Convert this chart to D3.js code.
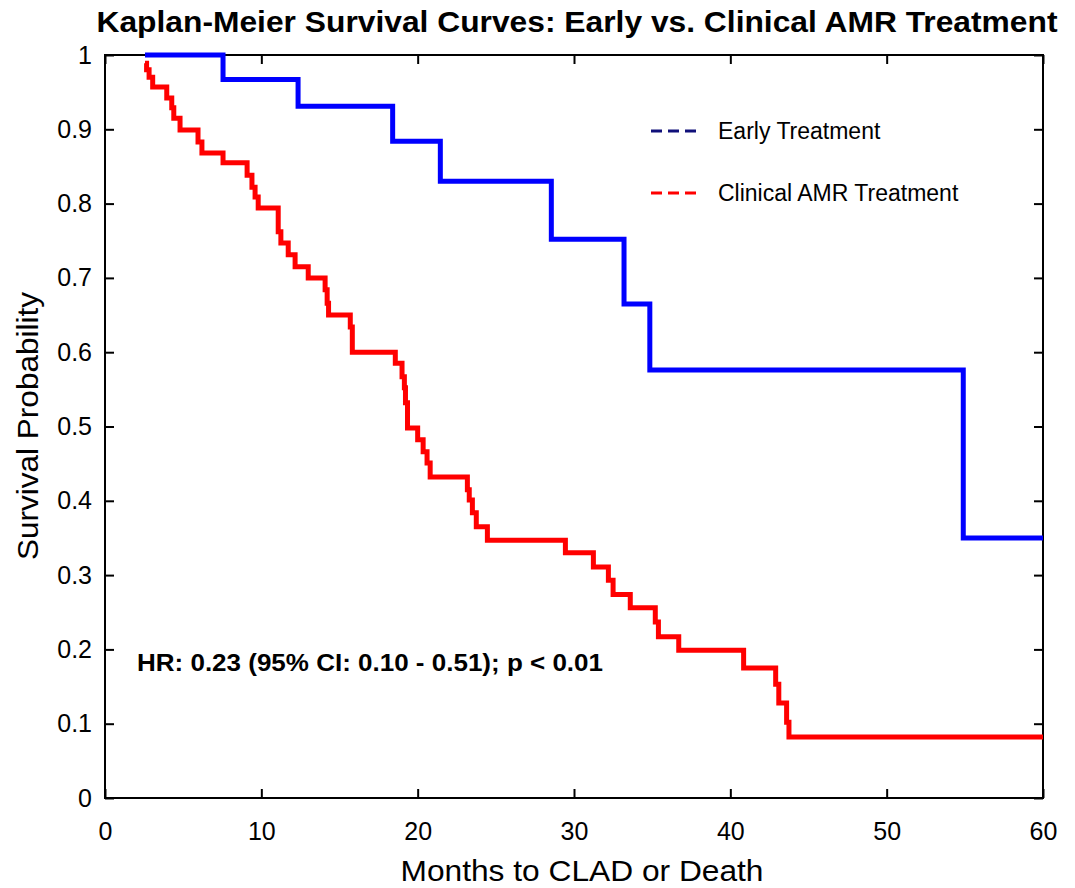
<!DOCTYPE html>
<html>
<head>
<meta charset="utf-8">
<script src="https://cdn.jsdelivr.net/npm/d3@7"></script>
<style>
  body { margin: 0; background: #fff; }
  text { font-family: "Liberation Sans", Arial, sans-serif; fill: #000; }
</style>
</head>
<body>
<div id="chart"></div>
<script>
// survival data (months, probability after the step)
var earlyTimes = [2.56, 7.55, 12.35, 18.4, 21.45, 28.55, 33.2, 34.85, 54.9];
var earlySurv  = [1.0, 0.967, 0.931, 0.884, 0.830, 0.752, 0.665, 0.576, 0.350];

var clinicalTimes = [2.56, 2.66, 2.82, 3.05, 3.95, 4.27, 4.4, 4.8, 5.95, 6.2, 7.55, 9.09, 9.4, 9.6, 9.8,
  11.08, 11.25, 11.72, 12.16, 13.0, 14.08, 14.21, 14.3, 15.69, 15.82, 18.57, 19.0, 19.15, 19.22, 19.35,
  20.0, 20.35, 20.6, 20.8, 23.18, 23.3, 23.5, 23.75, 24.46, 29.45, 31.24, 32.2, 32.5, 33.6, 35.2, 35.4,
  36.7, 40.85, 42.9, 43.1, 43.6, 43.75];
var clinicalSurv = [0.989, 0.980, 0.970, 0.957, 0.942, 0.929, 0.915, 0.899, 0.883, 0.868, 0.855, 0.838, 0.822, 0.809, 0.794,
  0.762, 0.747, 0.731, 0.715, 0.700, 0.684, 0.666, 0.650, 0.634, 0.600, 0.585, 0.567, 0.552, 0.532, 0.498,
  0.482, 0.466, 0.451, 0.432, 0.415, 0.401, 0.384, 0.365, 0.347, 0.330, 0.311, 0.293, 0.274, 0.256, 0.237, 0.217,
  0.199, 0.175, 0.153, 0.128, 0.102, 0.082];

var xTicks = [0, 10, 20, 30, 40, 50, 60];
var yTicks = [0, 0.1, 0.2, 0.3, 0.4, 0.5, 0.6, 0.7, 0.8, 0.9, 1];
var yTickLabels = ["0", "0.1", "0.2", "0.3", "0.4", "0.5", "0.6", "0.7", "0.8", "0.9", "1"];
var seriesNames = ["Early Treatment", "Clinical AMR Treatment"];
var xMax = 60;

var width = 1075, height = 888;
var plotLeft = 105, plotRight = 1043, plotTop = 55, plotBottom = 798;

var svg = d3.select('#chart').append('svg')
  .attr('width', width)
  .attr('height', height);

var x = d3.scaleLinear().domain([0, 60]).range([plotLeft, plotRight]);
var y = d3.scaleLinear().domain([0, 1]).range([plotBottom, plotTop]);

var toPoints = function(times, surv) {
  var pts = times.map(function(t, i) { return [t, surv[i]]; });
  pts.push([xMax, surv[surv.length - 1]]);
  return pts;
};

var line = d3.line()
  .x(function(d) { return x(d[0]); })
  .y(function(d) { return y(d[1]); })
  .curve(d3.curveStepAfter);

// axes, ticks pointing inward on all four sides
var g = svg.append('g');
g.append('g').attr('transform', 'translate(0,' + plotBottom + ')')
  .call(d3.axisBottom(x).tickValues(xTicks).tickSize(-9).tickPadding(24));
g.append('g').attr('transform', 'translate(0,' + plotTop + ')')
  .call(d3.axisTop(x).tickValues(xTicks).tickSize(-9).tickFormat(''));
g.append('g').attr('transform', 'translate(' + plotLeft + ',0)')
  .call(d3.axisLeft(y).tickValues(yTicks).tickSize(-9).tickPadding(13)
    .tickFormat(function(d, i) { return yTickLabels[i]; }));
g.append('g').attr('transform', 'translate(' + plotRight + ',0)')
  .call(d3.axisRight(y).tickValues(yTicks).tickSize(-9).tickFormat(''));

g.selectAll('.domain').remove();
g.selectAll('.tick line').attr('stroke', '#000').attr('stroke-width', 2);
g.selectAll('.tick text')
  .style('font-family', '"Liberation Sans", Arial, sans-serif')
  .style('font-size', '25px')
  .attr('fill', '#000');

svg.append('rect')
  .attr('x', plotLeft).attr('y', plotTop)
  .attr('width', plotRight - plotLeft).attr('height', plotBottom - plotTop)
  .attr('fill', 'none').attr('stroke', '#000').attr('stroke-width', 2);

// curves
svg.append('path')
  .datum(toPoints(earlyTimes, earlySurv))
  .attr('d', line)
  .attr('fill', 'none').attr('stroke', '#0000ff').attr('stroke-width', 5);
svg.append('path')
  .datum(toPoints(clinicalTimes, clinicalSurv))
  .attr('d', line)
  .attr('fill', 'none').attr('stroke', '#ff0000').attr('stroke-width', 5);

// legend
var legendColors = ['#10107a', '#ff0000'];
var legendY = [131, 193];
seriesNames.forEach(function(name, i) {
  svg.append('line')
    .attr('x1', 651).attr('x2', 699)
    .attr('y1', legendY[i]).attr('y2', legendY[i])
    .attr('stroke', legendColors[i]).attr('stroke-width', 3)
    .attr('stroke-dasharray', '11,6');
  svg.append('text')
    .attr('x', 718).attr('y', legendY[i] + 8)
    .style('font-size', '23px')
    .text(name);
});

// titles
svg.append('text')
  .attr('x', 577).attr('y', 32)
  .attr('text-anchor', 'middle')
  .attr('textLength', 961).attr('lengthAdjust', 'spacingAndGlyphs')
  .style('font-size', '30px').style('font-weight', 'bold')
  .text('Kaplan-Meier Survival Curves: Early vs. Clinical AMR Treatment');

svg.append('text')
  .attr('x', 582).attr('y', 881)
  .attr('text-anchor', 'middle')
  .attr('textLength', 363).attr('lengthAdjust', 'spacingAndGlyphs')
  .style('font-size', '30px')
  .text('Months to CLAD or Death');

svg.append('text')
  .attr('transform', 'translate(38,426) rotate(-90)')
  .attr('text-anchor', 'middle')
  .attr('textLength', 268).attr('lengthAdjust', 'spacingAndGlyphs')
  .style('font-size', '30px')
  .text('Survival Probability');

svg.append('text')
  .attr('x', 137).attr('y', 671)
  .attr('textLength', 466).attr('lengthAdjust', 'spacingAndGlyphs')
  .style('font-size', '23px').style('font-weight', 'bold')
  .text('HR: 0.23 (95% CI: 0.10 - 0.51); p < 0.01');
</script>
</body>
</html>
